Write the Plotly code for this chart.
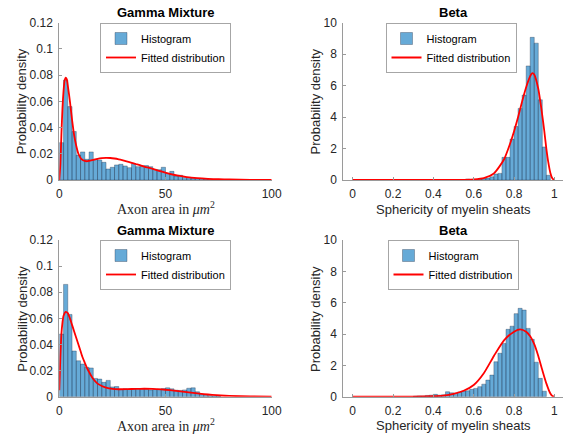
import plotly.graph_objects as go

# ---------------- data ----------------
# Top-left: axon area histogram (bin width 2) + gamma mixture fit
area_bin_w = 2
area_top_edges = [i * 2 for i in range(39)]
area_top_hist = [0.0285, 0.0763, 0.056, 0.037, 0.019, 0.0214, 0.0158, 0.0214, 0.0158, 0.0153,
                 0.0135, 0.0084, 0.0097, 0.0115, 0.012, 0.0107, 0.0094, 0.0125, 0.0102, 0.0104,
                 0.011, 0.0102, 0.0081, 0.0079, 0.0097, 0.0051, 0.0066, 0.003, 0.0036, 0.002,
                 0.002, 0.0015, 0.0012, 0.001, 0.0007, 0.0005, 0.0004, 0.0003, 0.0002]
area_top_fit_x = [0, 0.5, 1, 1.5, 2, 2.5, 3, 3.5, 4, 5, 6, 7, 8, 9, 10, 11, 12, 13, 14, 16, 18, 20,
                  22, 24, 26, 28, 30, 33, 36, 40, 44, 48, 52, 56, 60, 65, 70, 75, 80, 90, 100]
area_top_fit_y = [0, 0.012, 0.035, 0.055, 0.068, 0.076, 0.078, 0.077, 0.072, 0.060, 0.046, 0.034,
                  0.026, 0.020, 0.0168, 0.0152, 0.0145, 0.0143, 0.0146, 0.0154, 0.0162, 0.0167,
                  0.0169, 0.0168, 0.0164, 0.0158, 0.0150, 0.0137, 0.0122, 0.0102, 0.0085, 0.0065,
                  0.0047, 0.0033, 0.0022, 0.0014, 0.0009, 0.0006, 0.0004, 0.00015, 0.00005]

# Bottom-left
area_bot_edges = [i * 2 for i in range(38)]
area_bot_hist = [0.048, 0.086, 0.063, 0.035, 0.0275, 0.025, 0.0225, 0.022, 0.014, 0.0135,
                 0.011, 0.0125, 0.0075, 0.0078, 0.0055, 0.006, 0.0058, 0.006, 0.0062, 0.0055,
                 0.0058, 0.0052, 0.0055, 0.0058, 0.0062, 0.0068, 0.006, 0.005, 0.0048, 0.0052,
                 0.0065, 0.0068, 0.0038, 0.002, 0.0012, 0.0008, 0.0005, 0.0003]
area_bot_fit_x = [0, 0.5, 1, 1.5, 2, 3, 4, 5, 6, 7, 8, 9, 10, 11, 12, 13, 14, 15, 16, 18, 20, 22,
                  25, 28, 32, 36, 40, 44, 48, 52, 56, 60, 64, 68, 72, 76, 80, 90, 100]
area_bot_fit_y = [0.005, 0.03, 0.048, 0.057, 0.062, 0.065, 0.064, 0.060, 0.055, 0.050, 0.045,
                  0.040, 0.035, 0.030, 0.026, 0.022, 0.019, 0.016, 0.0135, 0.010, 0.0082, 0.0070,
                  0.0060, 0.0057, 0.0058, 0.0060, 0.0061, 0.0060, 0.0056, 0.0050, 0.0043, 0.0035,
                  0.0027, 0.0020, 0.0014, 0.0009, 0.0006, 0.0002, 0.00008]

# Top-right: sphericity histogram (bin width 0.02) + beta fit
sph_bin_w = 0.02
sph_top_edges = [0.42, 0.54, 0.56, 0.58, 0.60, 0.62, 0.64, 0.66, 0.68, 0.70, 0.72, 0.74, 0.76,
                 0.78, 0.80, 0.82, 0.84, 0.86, 0.88, 0.90, 0.92, 0.94, 0.96]
sph_top_hist = [0.03, 0.03, 0.06, 0.04, 0.03, 0.06, 0.1, 0.12, 0.2, 0.38, 0.42, 1.44, 1.44,
                2.6, 3.4, 4.55, 5.4, 7.25, 9.07, 8.7, 5.1, 2.1, 0.3]
sph_top_fit_x = [0, 0.3, 0.5, 0.55, 0.6, 0.65, 0.7, 0.75, 0.78, 0.8, 0.82, 0.84, 0.86, 0.88,
                 0.89, 0.9, 0.92, 0.93, 0.94, 0.95, 0.96, 0.97, 0.98, 0.99, 1.0]
sph_top_fit_y = [0, 0, 0.003, 0.01, 0.04, 0.12, 0.42, 1.3, 2.3, 3.1, 4.0, 5.0, 5.9, 6.6,
                 6.8, 6.7, 5.8, 5.0, 4.1, 3.1, 2.0, 1.1, 0.45, 0.1, 0]

# Bottom-right
sph_bot_edges = [0.30, 0.32, 0.34, 0.36, 0.38, 0.40, 0.42, 0.44, 0.46, 0.48, 0.50, 0.52, 0.54,
                 0.56, 0.58, 0.60, 0.62, 0.64, 0.66, 0.68, 0.70, 0.72, 0.74, 0.76, 0.78, 0.80,
                 0.82, 0.84, 0.86, 0.88, 0.90, 0.92, 0.94]
sph_bot_hist = [0.03, 0.05, 0.04, 0.08, 0.1, 0.15, 0.1, 0.12, 0.32, 0.25, 0.22, 0.3, 0.36,
                0.38, 0.47, 0.53, 0.64, 0.8, 1.06, 1.38, 2.23, 2.77, 3.4, 4.3, 4.5, 5.3,
                5.64, 5.53, 4.36, 3.66, 2.2, 1.17, 0.35]
sph_bot_fit_x = [0, 0.3, 0.4, 0.45, 0.5, 0.55, 0.6, 0.65, 0.7, 0.75, 0.8, 0.83, 0.86, 0.88,
                 0.9, 0.92, 0.94, 0.96, 0.98, 0.99, 1.0]
sph_bot_fit_y = [0, 0.005, 0.03, 0.07, 0.18, 0.38, 0.75, 1.5, 2.6, 3.6, 4.15, 4.3, 4.15, 3.85,
                 3.35, 2.6, 1.7, 0.85, 0.2, 0.04, 0]

titles = ["Gamma Mixture", "Beta", "Gamma Mixture", "Beta"]
ylab = "Probability density"
xlab_area = "Axon area in <i>μm</i><sup>2</sup>"
xlab_sph = "Sphericity of myelin sheats"

# ---------------- figure ----------------
W, H = 563, 437
SANS = "Liberation Sans, Arial, sans-serif"
SERIF = "Liberation Serif, DejaVu Serif, serif"
TXT = "#262626"
BAR_FILL = "rgba(0,114,189,0.6)"
BAR_EDGE = "rgba(30,40,60,0.55)"

fig = go.Figure()

panels = [
    (area_top_edges, area_top_hist, area_bin_w, area_top_fit_x, area_top_fit_y, "x", "y", "legend"),
    (sph_top_edges, sph_top_hist, sph_bin_w, sph_top_fit_x, sph_top_fit_y, "x2", "y2", "legend2"),
    (area_bot_edges, area_bot_hist, area_bin_w, area_bot_fit_x, area_bot_fit_y, "x3", "y3", "legend3"),
    (sph_bot_edges, sph_bot_hist, sph_bin_w, sph_bot_fit_x, sph_bot_fit_y, "x4", "y4", "legend4"),
]
for edges, hist, bw, fx, fy, xa, ya, lg in panels:
    fig.add_trace(go.Bar(x=edges, y=hist, width=bw, offset=0, xaxis=xa, yaxis=ya,
                         name="Histogram", legend=lg,
                         marker=dict(color=BAR_FILL, line=dict(color=BAR_EDGE, width=0.6))))
    fig.add_trace(go.Scatter(x=fx, y=fy, mode="lines", xaxis=xa, yaxis=ya,
                             name="Fitted distribution", legend=lg,
                             line=dict(color="red", width=1.8, shape="spline", smoothing=0.6)))

def px_x(p):
    return p / W

def px_y(p):
    return 1 - p / H

ax_common = dict(showline=True, linecolor="#9a9a9a", linewidth=1, ticks="inside", ticklen=3,
                 tickcolor="#9a9a9a", showgrid=False, zeroline=False, mirror=False,
                 tickfont=dict(family=SANS, size=12, color=TXT), ticklabelstandoff=3,
                 automargin=False, fixedrange=True)

dom_left = [px_x(59.3), px_x(271.7)]
dom_right = [px_x(343.3), 1.0]
dom_top = [px_y(180), px_y(22.7)]
dom_bot = [px_y(396.7), px_y(240)]
range_area = [0, 100]
range_sph = [-0.0466, 1.0426]

fig.update_layout(
    width=W, height=H, margin=dict(l=0, r=0, t=0, b=0),
    paper_bgcolor="white", plot_bgcolor="white", barmode="overlay",
    xaxis=dict(domain=dom_left, range=range_area, tickvals=[0, 50, 100], anchor="y", **ax_common),
    yaxis=dict(domain=dom_top, range=[0, 0.12], dtick=0.02, anchor="x", **ax_common),
    xaxis2=dict(domain=dom_right, range=range_sph, tickvals=[0, 0.2, 0.4, 0.6, 0.8, 1],
                anchor="y2", **ax_common),
    yaxis2=dict(domain=dom_top, range=[0, 10], dtick=2, anchor="x2", **ax_common),
    xaxis3=dict(domain=dom_left, range=range_area, tickvals=[0, 50, 100], anchor="y3", **ax_common),
    yaxis3=dict(domain=dom_bot, range=[0, 0.12], dtick=0.02, anchor="x3", **ax_common),
    xaxis4=dict(domain=dom_right, range=range_sph, tickvals=[0, 0.2, 0.4, 0.6, 0.8, 1],
                anchor="y4", **ax_common),
    yaxis4=dict(domain=dom_bot, range=[0, 10], dtick=2, anchor="x4", **ax_common),
)

leg_common = dict(bgcolor="white", bordercolor="#a6a6a6", borderwidth=1,
                  font=dict(family=SANS, size=11, color="black"),
                  xanchor="center", yanchor="top", tracegroupgap=0, itemwidth=30,
                  traceorder="normal")
fig.update_layout(
    legend=dict(x=px_x(165.5), y=px_y(23), **leg_common),
    legend2=dict(x=px_x(451), y=px_y(23), **leg_common),
    legend3=dict(x=px_x(165.5), y=px_y(240), **leg_common),
    legend4=dict(x=px_x(453), y=px_y(240), **leg_common),
)

ann = []
# subplot titles
for t, cx, cy in [(titles[0], 165.5, 12.5), (titles[1], 453, 12.5),
                  (titles[2], 165.5, 230), (titles[3], 453, 230)]:
    ann.append(dict(text=f"<b>{t}</b>", x=px_x(cx), y=px_y(cy), xref="paper", yref="paper",
                    showarrow=False, xanchor="center", yanchor="middle",
                    font=dict(family=SANS, size=13, color="black")))
# y labels
for cx, cy in [(21.7, 101.5), (315, 101.5), (21.7, 319), (315, 319)]:
    ann.append(dict(text=ylab, x=px_x(cx), y=px_y(cy), xref="paper", yref="paper",
                    showarrow=False, xanchor="center", yanchor="middle", textangle=-90,
                    font=dict(family=SANS, size=13, color=TXT)))
# x labels
for t, cx, cy, fam, sz in [(xlab_area, 165.5, 208.3, SERIF, 14), (xlab_sph, 453, 209.3, SANS, 13),
                           (xlab_area, 165.5, 425, SERIF, 14), (xlab_sph, 453, 425.7, SANS, 13)]:
    ann.append(dict(text=t, x=px_x(cx), y=px_y(cy), xref="paper", yref="paper",
                    showarrow=False, xanchor="center", yanchor="middle",
                    font=dict(family=fam, size=sz, color=TXT)))
fig.update_layout(annotations=ann)

fig.write_html("out.html", config={"displayModeBar": False, "staticPlot": True},
               post_script="document.body.style.margin='0';document.body.style.overflow='hidden';")
